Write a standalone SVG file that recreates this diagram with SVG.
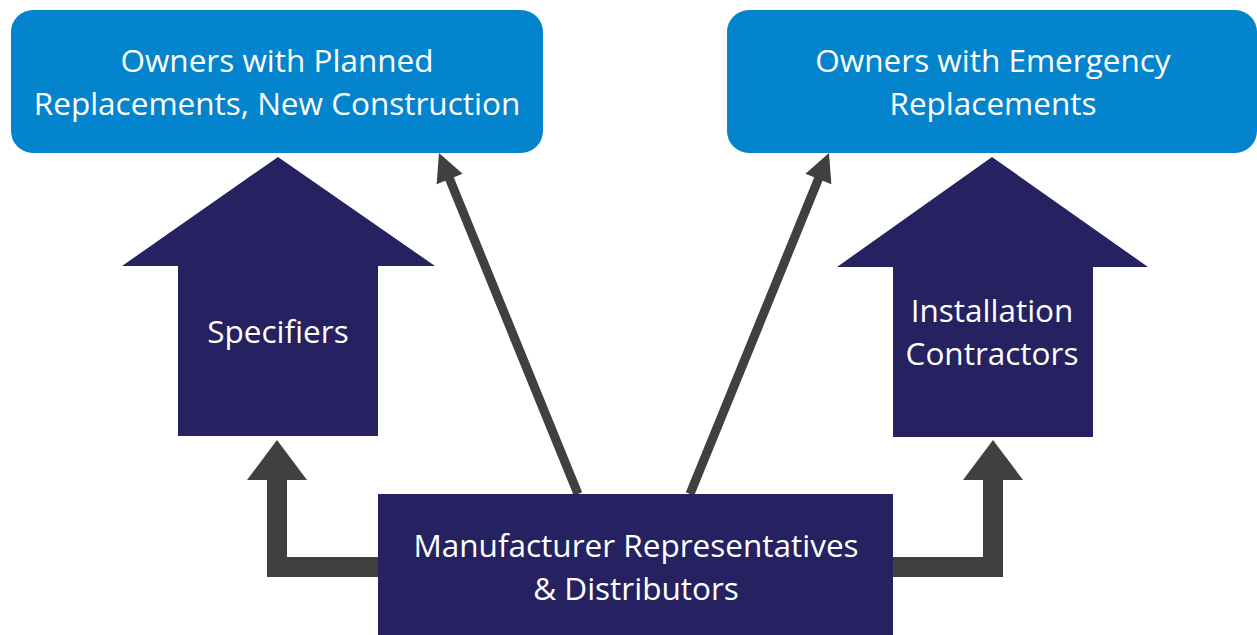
<svg xmlns="http://www.w3.org/2000/svg" width="1257" height="635" viewBox="0 0 1257 635">
  <style>
    .owner { fill: #0384CD; }
    .channel { fill: #262262; }
    .label { fill: #FFFFFF; font-family: "Open Sans", "Noto Sans", "Liberation Sans", sans-serif; font-size: 31.5px; text-anchor: middle; }
    .thin { fill: none; stroke: #404040; stroke-width: 9; }
    .thick { fill: none; stroke: #404040; stroke-width: 20; stroke-linejoin: miter; }
  </style>
  <defs>
    <marker id="headThin" markerUnits="userSpaceOnUse" markerWidth="28" markerHeight="28" refX="14" refY="14" orient="auto" overflow="visible">
      <path d="M0,0 L28,14 L0,28 z" fill="#404040"/>
    </marker>
    <marker id="headThick" markerUnits="userSpaceOnUse" markerWidth="40" markerHeight="60" refX="1" refY="30" orient="auto" overflow="visible">
      <path d="M0,0 L40,30 L0,60 z" fill="#404040"/>
    </marker>
  </defs>

  <rect width="1257" height="635" fill="#FFFFFF"/>

  <!-- connectors -->
  <g id="connectors">
    <path class="thin" d="M578,494 L444.3,166" marker-end="url(#headThin)"/>
    <path class="thin" d="M690,494 L823.7,166" marker-end="url(#headThin)"/>
    <path class="thick" d="M380,567 L277,567 L277,479" marker-end="url(#headThick)"/>
    <path class="thick" d="M891,567 L993,567 L993,479" marker-end="url(#headThick)"/>
  </g>

  <!-- owners: planned replacements / new construction -->
  <g id="owners-planned">
    <rect class="owner" x="11" y="10" width="532" height="143" rx="22" ry="22"/>
    <text class="label" x="277" y="72">Owners with Planned</text>
    <text class="label" x="277" y="115">Replacements, New Construction</text>
  </g>

  <!-- owners: emergency replacements -->
  <g id="owners-emergency">
    <rect class="owner" x="727" y="10" width="530" height="143" rx="22" ry="22"/>
    <text class="label" x="993" y="72">Owners with Emergency</text>
    <text class="label" x="993" y="115">Replacements</text>
  </g>

  <!-- specifiers -->
  <g id="specifiers">
    <polygon class="channel" points="278,157 435,266 378,266 378,436 178,436 178,266 122,266"/>
    <text class="label" x="278" y="343">Specifiers</text>
  </g>

  <!-- installation contractors -->
  <g id="installation-contractors">
    <polygon class="channel" points="992,157 1148,267 1093,267 1093,437 893,437 893,267 837,267"/>
    <text class="label" x="992" y="322">Installation</text>
    <text class="label" x="992" y="365">Contractors</text>
  </g>

  <!-- manufacturer representatives & distributors -->
  <g id="manufacturer-reps">
    <rect class="channel" x="378" y="494" width="515" height="141"/>
    <text class="label" x="636" y="557">Manufacturer Representatives</text>
    <text class="label" x="636" y="600">&amp; Distributors</text>
  </g>
</svg>
